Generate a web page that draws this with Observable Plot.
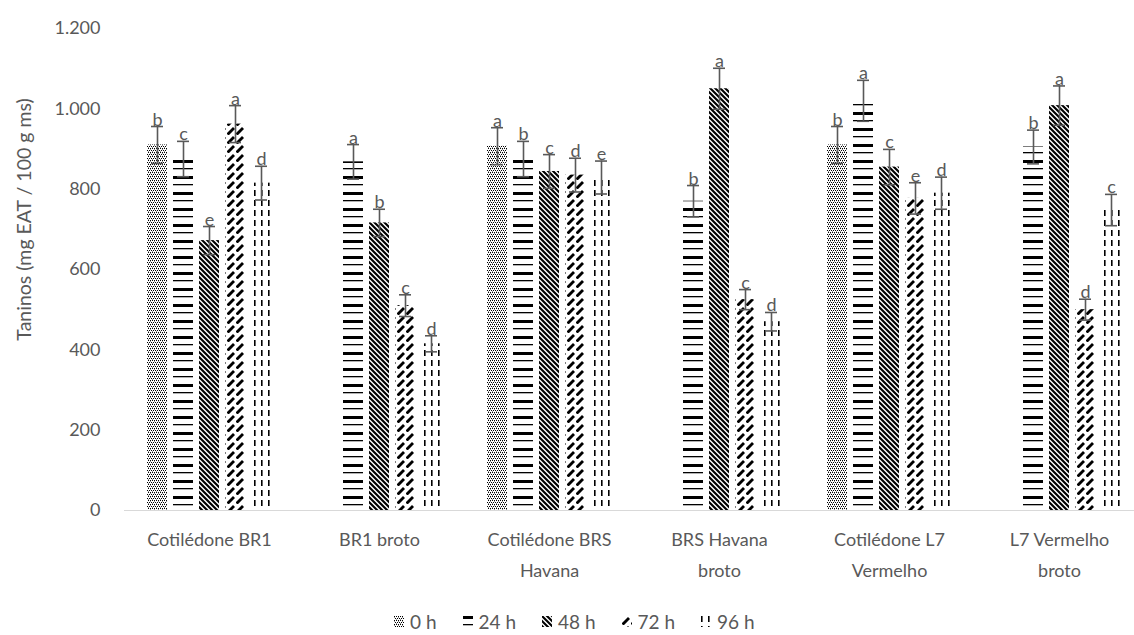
<!DOCTYPE html>
<html><head><meta charset="utf-8">
<script src="https://cdn.jsdelivr.net/npm/d3@7"></script>
<script src="https://cdn.jsdelivr.net/npm/@observablehq/plot@0.6"></script>
<style>
body{margin:0;background:#fff;font-family:Lato, sans-serif;}
#chart{position:relative;width:1134px;height:635px;overflow:hidden;background:#fff;}
#legend{position:absolute;top:610px;left:394px;height:22px;display:flex;align-items:center;font-size:19px;color:#595959;white-space:nowrap;}
#legend .it{display:flex;align-items:center;margin-right:26px;}
#legend svg{margin-right:6px;}
</style></head><body>
<svg width="0" height="0" style="position:absolute">
<defs>
<pattern id="pat0" patternUnits="userSpaceOnUse" width="4" height="4">
<rect x="0" y="0" width="1" height="1" fill="#000"/><rect x="2" y="0" width="1" height="1" fill="#000"/>
<rect x="1" y="2" width="1" height="1" fill="#000"/><rect x="3" y="2" width="1" height="1" fill="#000"/>
<rect x="0" y="1" width="1" height="1" fill="#999"/><rect x="2" y="3" width="1" height="1" fill="#999"/>
</pattern>
<pattern id="pat24" patternUnits="userSpaceOnUse" width="4" height="16">
<rect x="0" y="0" width="4" height="3" fill="#000"/><rect x="0" y="8" width="4" height="1.3" fill="#000"/>
</pattern>
<pattern id="pat48" patternUnits="userSpaceOnUse" width="5" height="5">
<path d="M-1,-1L6,6M-1,4L1,6M4,-1L6,1" stroke="#000" stroke-width="2.1"/>
</pattern>
<pattern id="pat72" patternUnits="userSpaceOnUse" width="9" height="9">
<path d="M0.5,8.5L7,2" stroke="#000" stroke-width="2.9"/>
</pattern>
<pattern id="pat96" patternUnits="userSpaceOnUse" width="7" height="10">
<rect x="0" y="0" width="1.6" height="6" fill="#000"/>
</pattern>
</defs>
</svg>
<div id="chart"></div>
<script>
const groups = ["Cotilédone BR1","BR1 broto","Cotilédone BRS Havana","BRS Havana broto","Cotilédone L7 Vermelho","L7 Vermelho broto"];
const groupLabels = ["Cotilédone BR1","BR1 broto","Cotilédone BRS\nHavana","BRS Havana\nbroto","Cotilédone L7\nVermelho","L7 Vermelho\nbroto"];
const times = ["0 h","24 h","48 h","72 h","96 h"];
const v0h  = [910, null, 907, null, 910, null];
const v24h = [875, 868, 875, 770, 1020, 905];
const v48h = [672, 716, 844, 1050, 855, 1008];
const v72h = [962, 510, 835, 525, 777, 500];
const v96h = [815, 415, 829, 470, 790, 748];
const e0h  = [46, null, 46, null, 46, null];
const e24h = [44, 43, 44, 39, 51, 42];
const e48h = [35, 34, 42, 51, 44, 49];
const e72h = [46, 27, 42, 25, 39, 26];
const e96h = [42, 20, 41, 23, 40, 39];
const l0h  = ["b", null, "a", null, "b", null];
const l24h = ["c","a","b","b","a","b"];
const l48h = ["e","b","c","a","c","a"];
const l72h = ["a","c","d","c","e","d"];
const l96h = ["d","d","e","d","d","c"];
const yTicks = [0,200,400,600,800,1000,1200];
const yLabel = "Taninos (mg EAT / 100 g ms)";
const patIds = ["pat0","pat24","pat48","pat72","pat96"];

const series = [[v0h,e0h,l0h],[v24h,e24h,l24h],[v48h,e48h,l48h],[v72h,e72h,l72h],[v96h,e96h,l96h]];
const rows = [];
groups.forEach((g,i) => times.forEach((t,j) => {
  const [v,e,l] = series[j];
  if (v[i] != null) rows.push({group:g, time:t, value:v[i], err:e[i], letter:l[i]});
}));
const fmt = d => d3.format(",")(d).replace(/,/g, ".");
const gray = "#595959";

const chart = Plot.plot({
  width: 1134, height: 605,
  marginLeft: 122, marginRight: 0, marginTop: 28, marginBottom: 95,
  style: {fontFamily: "Lato, sans-serif", fontSize: "18px", color: gray, background: "transparent", overflow: "visible"},
  fx: {domain: groups, range: [122, 1146], padding: 0, label: null},
  x: {domain: times, paddingInner: 0.245, paddingOuter: 0.84, axis: null},
  y: {domain: [0, 1200]},
  color: {domain: times, range: patIds.map(id => `url(#${id})`)},
  marks: [
    Plot.ruleY([0], {stroke: "#d9d9d9", strokeWidth: 1}),
    Plot.barY(rows, {fx: "group", x: "time", y: "value", fill: "time"}),
    Plot.ruleX(rows, {fx: "group", x: "time", y1: d => d.value - d.err, y2: d => d.value + d.err, stroke: gray, strokeWidth: 1.6}),
    Plot.tickY(rows, {fx: "group", x: "time", y: d => d.value + d.err, stroke: gray, strokeWidth: 1.6, inset: 4}),
    Plot.tickY(rows, {fx: "group", x: "time", y: d => d.value - d.err, stroke: gray, strokeWidth: 1.6, inset: 4}),
    Plot.text(rows, {fx: "group", x: "time", y: d => d.value + d.err, text: "letter", lineAnchor: "bottom", dy: -1, fill: gray, fontSize: 18}),
    Plot.axisY({ticks: yTicks, tickSize: 0, tickPadding: 24, tickFormat: fmt, label: null, fontSize: 18}),
    Plot.axisFx({anchor: "bottom", tickSize: 0, tickPadding: 14, tickFormat: g => groupLabels[groups.indexOf(g)], lineHeight: 1.72, label: null, fontSize: 18}),
    Plot.text([yLabel], {facet: "super", frameAnchor: "left", dx: -100, dy: -50, rotate: -90, lineAnchor: "middle", textAnchor: "middle", fill: gray, fontSize: 19.5})
  ]
});
const root = document.getElementById("chart");
root.appendChild(chart);

const legend = document.createElement("div");
legend.id = "legend";
times.forEach((t,j) => {
  const it = document.createElement("span");
  it.className = "it";
  it.innerHTML = `<svg width="10" height="11"><rect width="10" height="11" fill="url(#${patIds[j]})"/></svg><span>${t}</span>`;
  legend.appendChild(it);
});
root.appendChild(legend);
</script>
</body></html>
